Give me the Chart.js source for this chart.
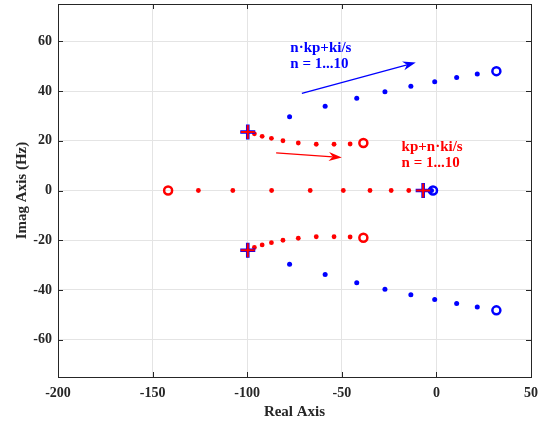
<!DOCTYPE html>
<html lang="en">
<head>
    <meta charset="UTF-8">
    <title>Root locus</title>
    <style>
        body { margin: 0; background: #fff; }
    </style>
</head>
<body>
    <canvas id="chart" width="548" height="426"></canvas>

    <script src="https://cdn.jsdelivr.net/npm/chart.js"></script>
    <script>
        // axis ticks
        const xTicks = [-200, -150, -100, -50, 0, 50];
        const yTicks = [-60, -40, -20, 0, 20, 40, 60];

        // kp + n*ki/s  (red)
        const redUpperX = [-96.2, -92.1, -87.2, -81.1, -73.0, -63.5, -54.1, -45.6];
        const redUpperY = [22.8, 21.8, 21.0, 20.0, 19.1, 18.6, 18.6, 18.7];
        const redLowerX = [-96.2, -92.1, -87.2, -81.1, -73.0, -63.5, -54.1, -45.6];
        const redLowerY = [-22.9, -21.9, -21.0, -20.0, -19.2, -18.6, -18.6, -18.7];
        const redRealX = [-125.8, -107.6, -87.1, -66.7, -49.2, -35.1, -23.9, -14.6];
        const redEndX = [-38.6, -38.6, -141.8];
        const redEndY = [19.1, -19.0, 0];

        // n*kp + ki/s  (blue)
        const blueUpperX = [-77.6, -58.8, -42.1, -27.2, -13.5, -0.9, 10.7, 21.6];
        const blueUpperY = [29.7, 33.9, 37.1, 39.7, 41.9, 43.7, 45.4, 46.8];
        const blueLowerX = [-77.6, -58.8, -42.1, -27.2, -13.5, -0.9, 10.7, 21.6];
        const blueLowerY = [-29.7, -33.8, -37.1, -39.7, -41.9, -43.8, -45.4, -46.8];
        const blueRealX = [-3.4, -2.6];
        const blueEndX = [31.7, 31.7, -1.8];
        const blueEndY = [48.0, -48.2, 0];

        // open loop poles (both)
        const poleX = [-99.7, -99.7, -7.0];
        const poleY = [23.5, -24.0, 0];

        const blueLabel = ['n\u00b7kp+ki/s', 'n = 1...10'];
        const redLabel = ['kp+n\u00b7ki/s', 'n = 1...10'];

        const pts = (xs, ys) => xs.map((x, i) => ({ x: x, y: ys[i] }));
        const onAxis = xs => xs.map(x => ({ x: x, y: 0 }));

        const RED = '#ff0000';
        const BLUE = '#0000ff';
        const FONT = '"Liberation Serif", "Times New Roman", serif';

        // arrows and notes, placed in data coordinates
        const notes = [
            { lines: blueLabel, color: BLUE, x: -77.2, y: 55.8, from: [-71.1, 39.1], to: [-10.9, 51.5] },
            { lines: redLabel, color: RED, x: -18.4, y: 15.9, from: [-84.7, 15.1], to: [-50.0, 13.3] }
        ];

        const boxPlugin = {
            id: 'box',
            afterDraw(chart) {
                const ctx = chart.ctx;
                const a = chart.chartArea;
                const xs = chart.scales.x, ys = chart.scales.y;
                ctx.save();
                ctx.strokeStyle = '#262626';
                ctx.lineWidth = 1;
                ctx.strokeRect(Math.round(a.left) + 0.5, Math.round(a.top) + 0.5,
                    Math.round(a.right - a.left), Math.round(a.bottom - a.top));
                ctx.beginPath();
                xTicks.forEach(v => {
                    const p = Math.round(xs.getPixelForValue(v)) + 0.5;
                    ctx.moveTo(p, a.bottom); ctx.lineTo(p, a.bottom - 5);
                    ctx.moveTo(p, a.top); ctx.lineTo(p, a.top + 5);
                });
                yTicks.forEach(v => {
                    const p = Math.round(ys.getPixelForValue(v)) + 0.5;
                    ctx.moveTo(a.left, p); ctx.lineTo(a.left + 5, p);
                    ctx.moveTo(a.right, p); ctx.lineTo(a.right - 5, p);
                });
                ctx.stroke();

                // arrows + labels
                notes.forEach(n => {
                    const x1 = xs.getPixelForValue(n.from[0]), y1 = ys.getPixelForValue(n.from[1]);
                    const x2 = xs.getPixelForValue(n.to[0]), y2 = ys.getPixelForValue(n.to[1]);
                    const ang = Math.atan2(y2 - y1, x2 - x1);
                    const hl = 13, hw = 4.5;
                    ctx.strokeStyle = n.color;
                    ctx.fillStyle = n.color;
                    ctx.lineWidth = 1.3;
                    ctx.beginPath();
                    ctx.moveTo(x1, y1);
                    ctx.lineTo(x2 - hl * 0.7 * Math.cos(ang), y2 - hl * 0.7 * Math.sin(ang));
                    ctx.stroke();
                    const bx = x2 - hl * Math.cos(ang), by = y2 - hl * Math.sin(ang);
                    const mx = x2 - hl * 0.7 * Math.cos(ang), my = y2 - hl * 0.7 * Math.sin(ang);
                    ctx.beginPath();
                    ctx.moveTo(x2, y2);
                    ctx.lineTo(bx - hw * Math.sin(ang), by + hw * Math.cos(ang));
                    ctx.lineTo(mx, my);
                    ctx.lineTo(bx + hw * Math.sin(ang), by - hw * Math.cos(ang));
                    ctx.closePath();
                    ctx.fill();

                    ctx.font = 'bold 15px ' + FONT;
                    ctx.textAlign = 'left';
                    ctx.textBaseline = 'alphabetic';
                    const tx = xs.getPixelForValue(n.x), ty = ys.getPixelForValue(n.y);
                    n.lines.forEach((t, i) => ctx.fillText(t, tx, ty + i * 16.5));
                });
                ctx.restore();
            }
        };

        const tickFont = { family: FONT, size: 14, weight: 'bold' };
        const titleFont = { family: FONT, size: 15, weight: 'bold' };

        new Chart(document.getElementById('chart').getContext('2d'), {
            type: 'scatter',
            data: {
                datasets: [
                    { data: pts(poleX, poleY), pointStyle: 'cross', pointRadius: 7, pointBorderWidth: 2, borderColor: RED, backgroundColor: RED, order: 0 },
                    { data: pts(poleX, poleY), pointStyle: 'cross', pointRadius: 7.5, pointBorderWidth: 3.6, borderColor: BLUE, backgroundColor: BLUE, order: 1 },
                    { data: pts(blueEndX, blueEndY), pointRadius: 4, pointBorderWidth: 2.5, borderColor: BLUE, backgroundColor: 'rgba(0,0,0,0)', order: 2 },
                    { data: pts(redEndX, redEndY), pointRadius: 4, pointBorderWidth: 2.5, borderColor: RED, backgroundColor: 'rgba(0,0,0,0)', order: 3 },
                    { data: pts(blueUpperX, blueUpperY).concat(pts(blueLowerX, blueLowerY), onAxis(blueRealX)), pointRadius: 2.5, pointBorderWidth: 0, borderColor: BLUE, backgroundColor: BLUE, order: 4 },
                    { data: pts(redUpperX, redUpperY).concat(pts(redLowerX, redLowerY), onAxis(redRealX)), pointRadius: 2.4, pointBorderWidth: 0, borderColor: RED, backgroundColor: RED, order: 5 }
                ]
            },
            options: {
                responsive: false,
                animation: false,
                layout: { autoPadding: false, padding: { top: 4, right: 17, left: 0, bottom: 0 } },
                plugins: { legend: { display: false }, tooltip: { enabled: false } },
                scales: {
                    x: {
                        type: 'linear',
                        min: -200,
                        max: 50,
                        afterBuildTicks: s => { s.ticks = xTicks.map(v => ({ value: v })); },
                        afterFit: s => { s.height = 49; s.paddingLeft = 0; s.paddingRight = 0; },
                        grid: { color: '#e4e4e4', drawTicks: false },
                        border: { display: false },
                        ticks: { font: tickFont, color: '#262626', padding: 8, maxRotation: 0 },
                        title: { display: true, text: 'Real Axis', font: titleFont, color: '#262626', padding: { top: 0, bottom: 5 } }
                    },
                    y: {
                        type: 'linear',
                        min: -75,
                        max: 75,
                        afterBuildTicks: s => { s.ticks = yTicks.map(v => ({ value: v })); },
                        afterFit: s => { s.width = 58; s.paddingTop = 0; s.paddingBottom = 0; },
                        grid: { color: '#e4e4e4', drawTicks: false },
                        border: { display: false },
                        ticks: { font: tickFont, color: '#262626', padding: 6 },
                        title: { display: true, text: 'Imag Axis (Hz)', font: titleFont, color: '#262626', padding: { top: 13, bottom: 0 } }
                    }
                }
            },
            plugins: [boxPlugin]
        });
    </script>
</body>
</html>
